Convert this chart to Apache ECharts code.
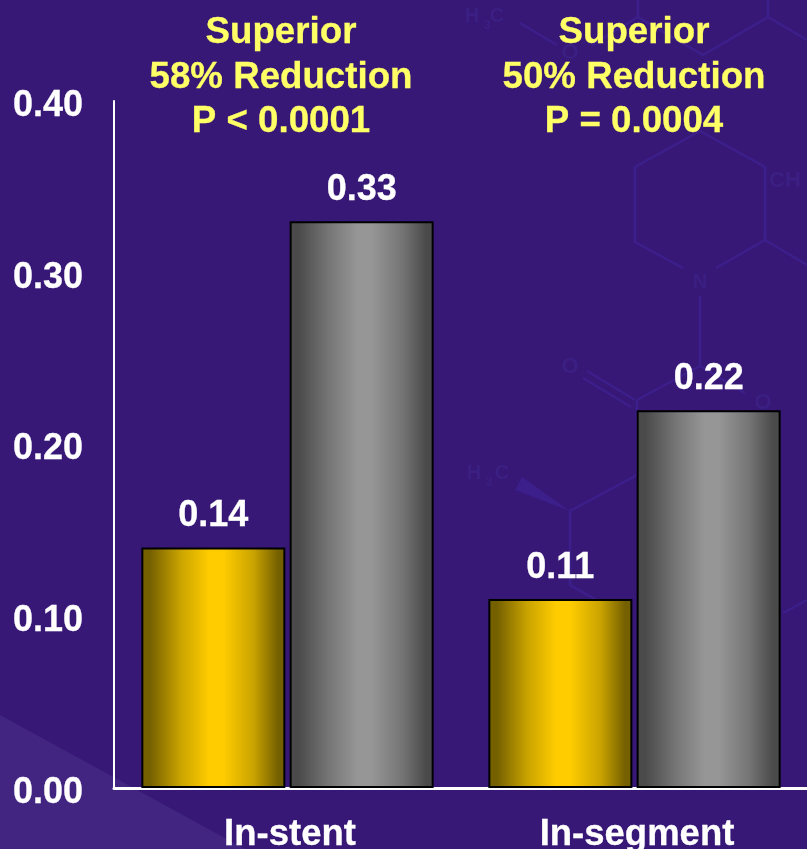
<!DOCTYPE html>
<html>
<head>
<meta charset="utf-8">
<style>html,body{margin:0;padding:0;background:#371877;overflow:hidden}#c{width:807px;height:849px}</style>
<script src="https://cdn.jsdelivr.net/npm/echarts@6/dist/echarts.min.js"></script>
</head>
<body>
<div id="c"></div>
<script>
// Late lumen loss values by measurement region
const categories = ['In-stent', 'In-segment'];
const drugValues = [0.14, 0.11];
const controlValues = [0.33, 0.22];
const yTicks = { min: 0, max: 0.4, step: 0.1 };
const callouts = [
  ['Superior', '58% Reduction', 'P < 0.0001'],
  ['Superior', '50% Reduction', 'P = 0.0004']
];

const FONT = '"Liberation Sans", Arial, sans-serif';
const BG = '#371877';
const BOND = '#3c1f8a';

// Backdrop: structural formula drawn as faint bonds
const bonds = [
  [[638,0],[638,17],[703,55],[768,17],[768,0]],
  [[768,17],[807,40]],
  [[638,17],[592,45]],
  [[520,23],[557,45]],
  [[700,131],[765,167],[765,240],[716,268]],
  [[683,268],[635,242],[635,167],[700,131]],
  [[765,240],[807,265]],
  [[700,296],[700,366],[745,393]],
  [[700,366],[637,400]],
  [[587,371],[635,400]],
  [[583,378],[631,407]],
  [[637,400],[637,475],[570,511],[570,585],[600,602]],
  [[807,600],[783,613]]
];
const atoms = [
  { t: 'H', x: 472, y: 16, s: 20 }, { t: '3', x: 487, y: 25, s: 13 }, { t: 'C', x: 497, y: 16, s: 20 },
  { t: 'O', x: 570, y: 53, s: 22 },
  { t: 'N', x: 700, y: 282, s: 20 },
  { t: 'CH', x: 785, y: 181, s: 22 },
  { t: 'O', x: 570, y: 367, s: 22 },
  { t: 'O', x: 763, y: 403, s: 22 },
  { t: 'H', x: 474, y: 473, s: 20 }, { t: '3', x: 489, y: 482, s: 13 }, { t: 'C', x: 502, y: 473, s: 20 }
];

const backdrop = [
  {
    type: 'polygon', silent: true, z: -20,
    shape: { points: [[0,715],[245,849],[0,849]] },
    style: { fill: '#412580' }
  },
  {
    type: 'polygon', silent: true, z: -19,
    shape: { points: [[570,511],[522,477],[515,490]] },
    style: { fill: BOND }
  }
].concat(bonds.map(points => ({
  type: 'polyline', silent: true, z: -19,
  shape: { points },
  style: { stroke: BOND, lineWidth: 2.5, fill: null }
}))).concat(atoms.map(a => ({
  type: 'text', silent: true, z: -19, x: a.x, y: a.y,
  style: { text: a.t, fill: '#3b1f82', font: 'bold ' + a.s + 'px ' + FONT, align: 'center', verticalAlign: 'middle' }
})));

const calloutCenters = [281, 634];
const calloutText = callouts.map((lines, i) => ({
  type: 'text', silent: true, z: 50, x: calloutCenters[i], y: 11,
  style: {
    text: lines.join('\n'), fill: '#ffff66', font: 'bold 36.7px ' + FONT,
    stroke: '#ffff66', lineWidth: 0.3,
    lineHeight: 44.5, align: 'center', verticalAlign: 'top'
  }
}));

function sideLit(edge, mid, centre) {
  return {
    type: 'linear', x: 0, y: 0, x2: 1, y2: 0,
    colorStops: [
      { offset: 0, color: edge },
      { offset: 0.06, color: edge },
      { offset: 0.27, color: mid },
      { offset: 0.47, color: centre },
      { offset: 0.57, color: centre },
      { offset: 0.78, color: mid },
      { offset: 0.95, color: edge },
      { offset: 1, color: edge }
    ]
  };
}

const valueLabel = {
  show: true, position: 'top', distance: 13, color: '#fff',
  fontFamily: FONT, fontWeight: 'bold', fontSize: 36,
  textBorderColor: '#fff', textBorderWidth: 0.3,
  formatter: p => p.value.toFixed(2)
};

const chart = echarts.init(document.getElementById('c'), null, { renderer: 'canvas', width: 807, height: 849 });
chart.setOption({
  animation: false,
  backgroundColor: BG,
  graphic: backdrop.concat(calloutText),
  grid: { left: 114, top: 101, width: 694, height: 687, containLabel: false, outerBoundsMode: 'none' },
  xAxis: {
    type: 'category', data: categories,
    axisTick: { show: false },
    axisLine: { lineStyle: { color: '#fff', width: 3 } },
    axisLabel: {
      color: '#fff', fontFamily: FONT, fontWeight: 'bold', fontSize: 36.5,
      textBorderColor: '#fff', textBorderWidth: 0.3,
      margin: 28, padding: [0, 0, 0, 5]
    }
  },
  yAxis: {
    type: 'value', min: yTicks.min, max: yTicks.max, interval: yTicks.step,
    splitLine: { show: false },
    axisTick: { show: false },
    axisLine: { show: true, lineStyle: { color: '#fff', width: 2 } },
    axisLabel: {
      color: '#fff', fontFamily: FONT, fontWeight: 'bold', fontSize: 36,
      textBorderColor: '#fff', textBorderWidth: 0.3,
      margin: 31, verticalAlign: 'top', lineHeight: 10, formatter: v => v.toFixed(2)
    }
  },
  series: [
    {
      type: 'bar', data: drugValues, barWidth: 144, barGap: '3%',
      itemStyle: { color: sideLit('#756000', '#c9a300', '#ffcc00'), borderColor: '#000', borderWidth: 2 },
      label: valueLabel
    },
    {
      type: 'bar', data: controlValues, barWidth: 144,
      itemStyle: { color: sideLit('#4a4a4a', '#757575', '#969696'), borderColor: '#000', borderWidth: 2 },
      label: valueLabel
    }
  ]
});
</script>
</body>
</html>
